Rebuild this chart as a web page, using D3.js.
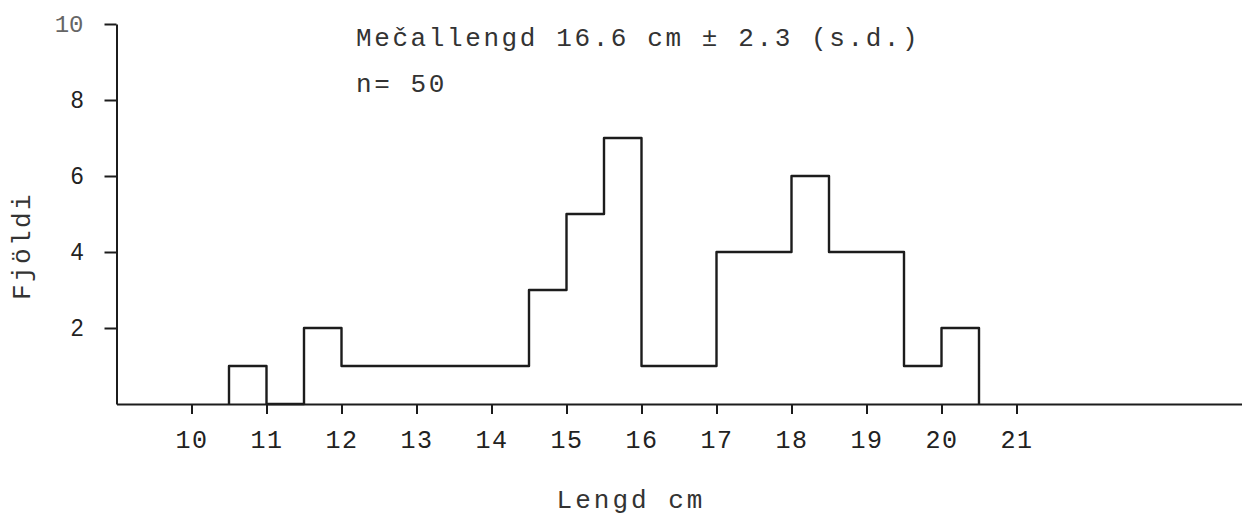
<!DOCTYPE html>
<html>
<head>
<meta charset="utf-8">
<script src="https://cdn.jsdelivr.net/npm/d3@7"></script>
<style>
  html, body { margin: 0; padding: 0; background: #fff; }
  svg { display: block; }
  .mono { font-family: "Liberation Mono", "DejaVu Sans Mono", monospace; }
</style>
</head>
<body>
<script>
// ---- data ----
const binStarts = [10.5, 11, 11.5, 12, 12.5, 13, 13.5, 14, 14.5, 15, 15.5, 16, 16.5, 17, 17.5, 18, 18.5, 19, 19.5, 20];
const counts    = [1,    0,  2,    1,  1,    1,  1,    1,  3,    5,  7,    1,  1,    4,  4,    6,  4,    4,  1,    2];
const binWidth = 0.5;
const xTicks = [10, 11, 12, 13, 14, 15, 16, 17, 18, 19, 20, 21];
const yTicks = [2, 4, 6, 8, 10];
const titleText = "Mečallengd 16.6 cm ± 2.3 (s.d.)";
const nText = "n= 50";
const xLabel = "Lengd cm";
const yLabel = "Fjöldi";

// ---- layout ----
const W = 1242, H = 515;
const ink = "#1c1c1c";
const svg = d3.select("body").append("svg").attr("width", W).attr("height", H);

const x = d3.scaleLinear().domain([9, 24]).range([116.5, 1241.5]);
const y = d3.scaleLinear().domain([0, 10]).range([404, 24]);

// x axis
const gx = svg.append("g").attr("transform", `translate(0,${y(0)})`)
  .call(d3.axisBottom(x).tickValues(xTicks).tickSize(10).tickSizeOuter(0).tickFormat(d3.format("d")));
gx.select(".domain").attr("stroke", ink).attr("stroke-width", 2);
gx.selectAll(".tick line").attr("stroke", ink).attr("stroke-width", 2);
gx.selectAll(".tick text")
  .attr("class", "mono")
  .attr("dy", null).attr("y", 44)
  .attr("fill", "#222")
  .style("font-size", "25px")
  .style("letter-spacing", "1.5px");

// y axis
const gy = svg.append("g").attr("transform", `translate(${x(9)},0)`)
  .call(d3.axisLeft(y).tickValues(yTicks).tickSize(12).tickSizeOuter(0).tickPadding(21).tickFormat(d3.format("d")));
gy.select(".domain").attr("stroke", ink).attr("stroke-width", 2);
gy.selectAll(".tick line").attr("stroke", ink).attr("stroke-width", 2);
gy.selectAll(".tick text")
  .attr("fill", "#222")
  .style("font-family", d => d === 10 ? '"Liberation Mono", monospace' : '"Liberation Sans", Arial, sans-serif')
  .style("font-size", d => d === 10 ? "24px" : "23px")
  .style("fill", d => d === 10 ? "#666" : "#222");

// histogram outline
const pts = [[binStarts[0], 0]];
binStarts.forEach((s, i) => pts.push([s, counts[i]]));
pts.push([binStarts[binStarts.length - 1] + binWidth, 0]);
const line = d3.line().x(d => x(d[0])).y(d => y(d[1])).curve(d3.curveStepAfter);
svg.append("path").datum(pts)
  .attr("d", line)
  .attr("fill", "none")
  .attr("stroke", ink)
  .attr("stroke-width", 2.4)
  .attr("stroke-linejoin", "round");

// texts
svg.append("text").attr("class", "mono")
  .attr("x", 356).attr("y", 46)
  .attr("fill", "#333")
  .style("font-size", "26px").style("letter-spacing", "2.6px")
  .text(titleText);
svg.append("text").attr("class", "mono")
  .attr("x", 356).attr("y", 92)
  .attr("fill", "#333")
  .style("font-size", "26px").style("letter-spacing", "2.6px")
  .text(nText);
svg.append("text").attr("class", "mono")
  .attr("x", 631).attr("y", 508)
  .attr("text-anchor", "middle")
  .attr("fill", "#333")
  .style("font-size", "26px").style("letter-spacing", "3px")
  .text(xLabel);
svg.append("text").attr("class", "mono")
  .attr("transform", "translate(30,246) rotate(-90)")
  .attr("text-anchor", "middle")
  .attr("fill", "#333")
  .style("font-size", "26px").style("letter-spacing", "2.4px")
  .text(yLabel);
</script>
</body>
</html>
